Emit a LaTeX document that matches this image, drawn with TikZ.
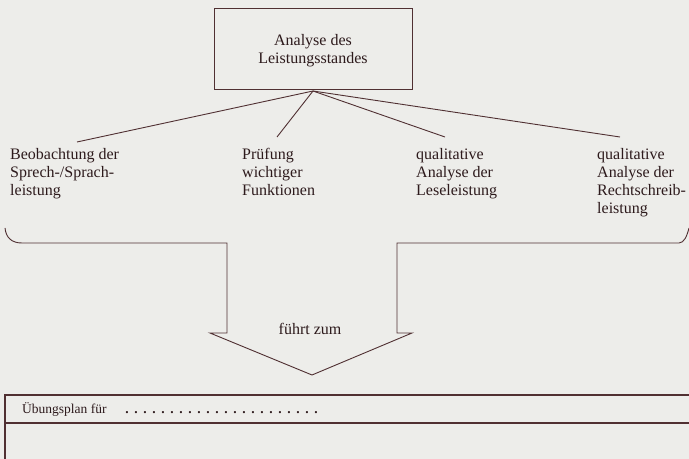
\documentclass[tikz,border=0pt]{standalone}
\usepackage{fontspec}
\setmainfont{Liberation Serif}
\definecolor{paper}{RGB}{237,237,234}
\definecolor{ink}{RGB}{80,48,50}
\definecolor{type}{RGB}{45,26,28}
% a row of spaced dots to write on
\newcommand\dotrow[1]{\foreach \k in {1,...,#1}{\hbox to 9bp{\hss\textbf{.}\hss}}}
\begin{document}
\begin{tikzpicture}[x=1bp,y=-1bp,
  line/.style={draw=ink,line width=0.9bp},
  label/.style={text=type,inner sep=0pt,font=\fontsize{16bp}{18bp}\selectfont},
  leaf/.style={label,anchor=north west,align=left},
  rule/.style={draw=ink,line width=1.3bp}]
  % paper and picture bounds
  \fill[paper] (0,0) rectangle (689,459);
  \useasboundingbox (0,0) rectangle (689,459);

  % top box
  \node[line,minimum width=198bp,minimum height=81bp,inner sep=0pt] (box) at (313,48.5) {};
  \node[label,align=center] (boxtext) at (313,51) {Analyse des\\Leistungsstandes};
  \coordinate (hub) at (313,91);

  % the four aspects
  \node[leaf] (beob) at (10,148) {Beobachtung der\\Sprech-/Sprach-\\leistung};
  \node[leaf] (pruef) at (242,148) {Prüfung\\wichtiger\\Funktionen};
  \node[leaf] (lese) at (416,148) {qualitative\\Analyse der\\Leseleistung};
  \node[leaf] (recht) at (597,148) {qualitative\\Analyse der\\Rechtschreib-\\leistung};

  \coordinate (e1) at (77,142);
  \coordinate (e2) at (277,137);
  \coordinate (e3) at (445,137);
  \coordinate (e4) at (620,137);
  \foreach \e in {e1,e2,e3,e4} \draw[line] (hub) -- (\e);

  % bracket narrowing into a down arrow
  \draw[line,line join=miter]
    (5,228) .. controls (6,238) and (12,243) .. (22,243)
    -- (227,243) -- (227,333) -- (210,333) -- (312,375) -- (412,333)
    -- (397,333) -- (397,243) -- (679,243)
    .. controls (684,243) and (687,236) .. (689,228);
  \node[label,anchor=base] (fuehrt) at (310,335) {führt zum};

  % plan form at the bottom
  \draw[rule] (689,395) -- (5,395) -- (5,459);
  \draw[rule] (5,423) -- (689,423);
  \node[label,anchor=base west,font=\fontsize{13.5bp}{15bp}\selectfont] (plan) at (22,413)
    {Übungsplan für\hskip 16bp\dotrow{22}};
\end{tikzpicture}
\end{document}
